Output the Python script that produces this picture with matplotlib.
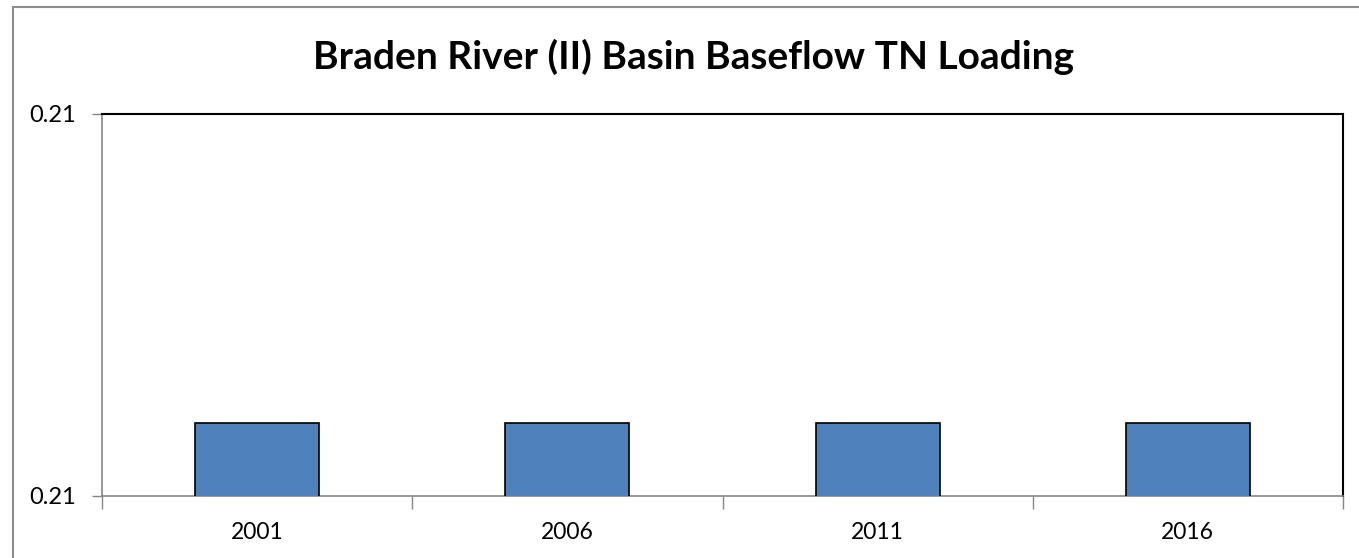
import matplotlib
matplotlib.use("Agg")
import matplotlib.pyplot as plt
from matplotlib.lines import Line2D
from matplotlib.ticker import FormatStrFormatter

years = ["2001", "2006", "2011", "2016"]
loading = [0.21019, 0.21019, 0.21019, 0.21019]
y_min, y_max = 0.2100, 0.2110
title = "Braden River (II) Basin Baseflow TN Loading"

W, H = 1359, 558
fig = plt.figure(figsize=(W / 100, H / 100), dpi=100)
plt.rcParams['font.family'] = ['Lato', 'DejaVu Sans']

ax = fig.add_axes([102 / W, (H - 496) / H, (1343 - 102) / W, (496 - 114) / H])
x = list(range(len(years)))
ax.bar(x, loading, width=0.4, color="#4F81BD", edgecolor="black", linewidth=1.2, zorder=3)
ax.set_xlim(-0.5, len(years) - 0.5)
ax.set_ylim(y_min, y_max)
ax.set_yticks([y_min, y_max])
ax.yaxis.set_major_formatter(FormatStrFormatter('%.2f'))
ax.set_xticks(x)
ax.set_xticklabels(years)
ax.tick_params(axis='x', length=0, pad=19, labelsize=16.5)
ax.set_xticks([i - 0.5 for i in range(len(years) + 1)], minor=True)
ax.tick_params(axis='x', which='minor', length=9, color='#868686', width=1)
ax.tick_params(axis='y', length=7, color='#868686', width=1, labelsize=17, pad=12)
for s in ['top', 'right']:
    ax.spines[s].set_color('black')
    ax.spines[s].set_linewidth(1.5)
for s in ['left', 'bottom']:
    ax.spines[s].set_color('#868686')
    ax.spines[s].set_linewidth(1.2)

fig.text((310 + 1077) / 2 / W, 1 - 57 / H, title, ha='center', va='center',
         fontsize=28, fontweight='bold')

# outer chart border
fig.add_artist(Line2D([13 / W, 13 / W], [1 - 7 / H, 0], transform=fig.transFigure,
                      color='#8c8c8c', linewidth=1.5))
fig.add_artist(Line2D([13 / W, 1], [1 - 7 / H, 1 - 7 / H], transform=fig.transFigure,
                      color='#8c8c8c', linewidth=1.5))

fig.savefig("out.png", dpi=100)
